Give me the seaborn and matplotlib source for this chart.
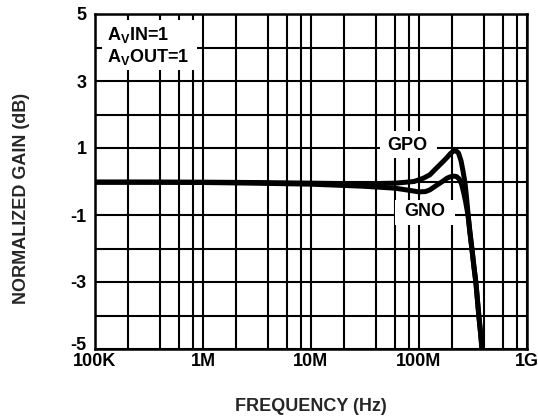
import matplotlib
matplotlib.use("Agg")
import matplotlib.pyplot as plt
import matplotlib.patches as mpatches
import matplotlib.transforms as mtransforms
import pandas as pd
import seaborn as sns

# Frequency response of the two outputs (frequency in MHz, gain in dB)
gpo_freq_mhz = [0.1, 0.3, 1, 3, 10, 30, 60, 90, 110, 126, 140, 156, 170, 182,
                195, 207, 218, 232, 245, 256, 267, 276, 284, 296, 310, 323,
                337, 348, 359, 371, 383]
gpo_gain_db = [-0.02, -0.02, -0.02, -0.03, -0.05, -0.07, -0.05, 0.0, 0.1, 0.2,
               0.35, 0.5, 0.62, 0.72, 0.83, 0.9, 0.93, 0.85, 0.62, 0.3, -0.05,
               -0.5, -0.94, -1.5, -2.04, -2.55, -3.03, -3.55, -4.04, -4.5, -5.0]

gno_freq_mhz = [0.1, 0.3, 1, 3, 10, 30, 60, 80, 100, 115, 126, 140, 156, 170,
                182, 195, 210, 222, 235, 248, 260, 270, 284, 296, 310, 323,
                337, 348, 359, 371, 383]
gno_gain_db = [-0.02, -0.02, -0.03, -0.05, -0.08, -0.14, -0.2, -0.26, -0.31,
               -0.3, -0.25, -0.15, -0.05, 0.03, 0.1, 0.14, 0.16, 0.15, 0.08,
               -0.08, -0.35, -0.6, -1.0, -1.52, -2.06, -2.57, -3.05, -3.56,
               -4.05, -4.5, -5.0]

x_tick_values = [1e5, 1e6, 1e7, 1e8, 1e9]
x_tick_labels = ["100K", "1M", "10M", "100M", "1G"]
y_tick_values = [-5, -4, -3, -2, -1, 0, 1, 2, 3, 4, 5]
y_tick_labels = ["-5", "", "-3", "", "-1", "", "1", "", "3", "", "5"]

df = pd.concat([
    pd.DataFrame({"freq": [f * 1e6 for f in gpo_freq_mhz], "gain": gpo_gain_db, "trace": "GPO"}),
    pd.DataFrame({"freq": [f * 1e6 for f in gno_freq_mhz], "gain": gno_gain_db, "trace": "GNO"}),
], ignore_index=True)

sns.set_style("white")
plt.rcParams["font.family"] = ["Liberation Sans", "DejaVu Sans"]
plt.rcParams["font.weight"] = "bold"
plt.rcParams["mathtext.fontset"] = "custom"
plt.rcParams["mathtext.bf"] = "Liberation Sans:bold"
plt.rcParams["mathtext.rm"] = "Liberation Sans:bold"

FS = 13
W, H = 538, 416
fig = plt.figure(figsize=(W / 100, H / 100), dpi=100)
L, R, T, B = 95, 527, 14, 349
ax = fig.add_axes([L / W, 1 - B / H, (R - L) / W, (B - T) / H])

sns.lineplot(data=df, x="freq", y="gain", hue="trace", palette=["black", "black"],
             estimator=None, sort=False, legend=False, linewidth=3.6, ax=ax,
             zorder=3)
for line in ax.get_lines():
    line.set_solid_capstyle("butt")
    line.set_solid_joinstyle("round")

ax.set_xscale("log")
ax.set_xlim(1e5, 1e9)
ax.set_ylim(-5, 5)
ax.set_xticks(x_tick_values)
ax.set_xticklabels(x_tick_labels)
ax.xaxis.set_minor_locator(matplotlib.ticker.LogLocator(base=10, subs=[2, 4, 6, 8]))
ax.xaxis.set_minor_formatter(matplotlib.ticker.NullFormatter())
ax.set_yticks(y_tick_values)
ax.set_yticklabels(y_tick_labels)

ax.set_axisbelow(True)
ax.grid(which="both", axis="x", color="black", linewidth=1.5)
ax.grid(which="major", axis="y", color="black", linewidth=1.5)
for s in ax.spines.values():
    s.set_color("black")
    s.set_linewidth(1.8)

ax.tick_params(axis="both", which="both", length=0, labelsize=FS, colors="black")
ax.tick_params(axis="x", pad=3)
ax.tick_params(axis="y", pad=6)
for lab in ax.get_xticklabels() + ax.get_yticklabels():
    lab.set_fontweight("bold")
# lift the bottom gain label clear of the frequency labels
ylabs = ax.get_yticklabels()
ylabs[0].set_transform(ylabs[0].get_transform() +
                       mtransforms.ScaledTranslation(0, 5 / 100, fig.dpi_scale_trans))

ax.set_xlabel("FREQUENCY (Hz)", fontsize=FS, fontweight="bold")
ax.set_ylabel("NORMALIZED GAIN (dB)", fontsize=FS, fontweight="bold")
ax.xaxis.set_label_coords(0.5, -0.145)
ax.yaxis.set_label_coords(-0.15, 0.449)


def px_box(x0, y0, x1, y1):
    """White backing box given in figure pixel coordinates."""
    rect = mpatches.Rectangle(((x0 - L) / (R - L), (B - y1) / (B - T)),
                              (x1 - x0) / (R - L), (y1 - y0) / (B - T),
                              transform=ax.transAxes, facecolor="white",
                              edgecolor="none", zorder=1)
    ax.add_patch(rect)


def px_text(x, y, s, **kw):
    ax.text((x - L) / (R - L), (B - y) / (B - T), s, transform=ax.transAxes,
            fontsize=FS, fontweight="bold", color="black", zorder=4, **kw)


px_box(102, 20, 197, 70)
px_text(107, 40, r"$\mathbf{A_V}$IN=1", ha="left", va="baseline")
px_text(107, 62, r"$\mathbf{A_V}$OUT=1", ha="left", va="baseline")

px_box(380, 131, 437, 158)
px_text(407, 146, "GPO", ha="center", va="center")

px_box(395, 200, 455, 225)
px_text(424.5, 212, "GNO", ha="center", va="center")

fig.savefig("out.png", dpi=100)
